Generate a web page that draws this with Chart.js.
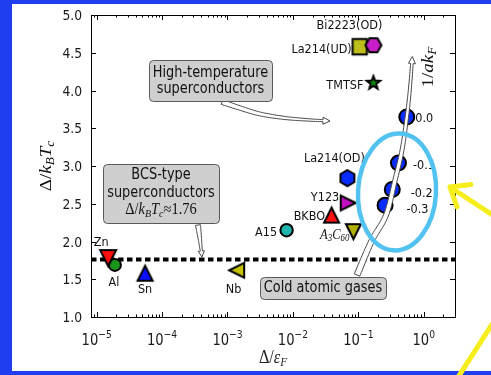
<!DOCTYPE html>
<html>
<head>
<meta charset="utf-8">
<script src="https://cdn.jsdelivr.net/npm/chart.js@4.4.0/dist/chart.umd.min.js"></script>
<style>
  html, body { margin: 0; padding: 0; background: #1f3ef0; }
  canvas { display: block; }
</style>
</head>
<body>
<canvas id="gapChart" width="491" height="375"></canvas>
<script>
// gap ratios of known superconductors: Delta/E_F (x) against Delta/kTc (y)
const materials = ['Al', 'Zn', 'Sn', 'Nb', 'A15', 'BKBO', 'Y123', 'A3C60', 'La214(OD)', 'TMTSF', 'La214(UD)', 'Bi2223(OD)'];
const gapOverEf = [1.9e-5, 1.5e-5, 5.5e-5, 1.38e-3, 8.0e-3, 0.039, 0.070, 0.084, 0.068, 0.17, 0.105, 0.17];
const gapOverTc = [1.69, 1.78, 1.58, 1.62, 2.15, 2.35, 2.51, 2.13, 2.84, 4.10, 4.58, 4.60];

// cold atomic gases, labelled by 1/ak_F
const coldLabels = ['0.0', '-0.1', '-0.2', '-0.3'];
const coldGapOverEf = [0.55, 0.41, 0.33, 0.256];
const coldGapOverTc = [3.65, 3.04, 2.69, 2.48];

// weak-coupling BCS value
const bcsRatio = 1.76;

const xRange = [8.2e-6, 3.0];
const yRange = [1.0, 5.0];
const yTicks = [1.0, 1.5, 2.0, 2.5, 3.0, 3.5, 4.0, 4.5, 5.0];
const yTickLabels = ['1.0', '1.5', '2.0', '2.5', '3.0', '3.5', '4.0', '4.5', '5.0'];
const xDecades = [-5, -4, -3, -2, -1, 0];

// annotation arrows, in data units
const akfArrowX = [0.0955, 0.160, 0.265, 0.363, 0.465, 0.551, 0.612, 0.670];
const akfArrowY = [1.556, 2.01, 2.35, 2.81, 3.21, 3.65, 4.01, 4.45];
const htscArrowX = [8.24e-4, 1.55e-3, 3.14e-3, 7.57e-3, 0.0182, 0.0369];
const htscArrowY = [3.848, 3.768, 3.689, 3.636, 3.609, 3.596];
const bcsArrowX = [3.54e-4, 3.80e-4, 4.07e-4];
const bcsArrowY = [2.218, 2.02, 1.795];

// marker looks
const markerShape = ['circle', 'tri-down', 'tri-up', 'tri-left', 'circle', 'tri-up', 'tri-right', 'tri-down', 'hex-v', 'star', 'square', 'hex-h'];
const markerColor = ['#1a961a', '#ff1010', '#0a10ff', '#c4c400', '#22b5ad', '#ff1010', '#c010c0', '#b0b000', '#0a2cff', '#0a8a0a', '#bdbd1c', '#c81ec8'];
const markerSize = [6, 8, 7.5, 7.5, 6.2, 7.5, 7.5, 7.5, 8, 7, 7.5, 8];

// label placement relative to marker (px)
const labelDx = [-1, -7, 0, -3, -9.5, -6.5, -9, -4, -13, -10, -8, -24];
const labelDy = [18, -15, 17, 20, 3, 2, -5.5, 3.5, -19, 3, 3, -19];
const labelAlign = ['center', 'center', 'center', 'center', 'right', 'right', 'right', 'right', 'center', 'right', 'right', 'center'];
const coldLabelDx = [8.5, 14.5, 18.5, 21.5];
const coldLabelDy = [1.5, 2.7, 4, 4.3];

function makeMarker(shape, color, r) {
  if (shape === 'circle') return 'circle';
  const s = Math.ceil(2 * r + 6);
  const c = document.createElement('canvas');
  c.width = s; c.height = s;
  const g = c.getContext('2d');
  const cx = s / 2, cy = s / 2;
  let pts = [];
  if (shape.startsWith('tri')) {
    const ang = {'tri-up': 0, 'tri-right': 90, 'tri-down': 180, 'tri-left': 270}[shape] * Math.PI / 180;
    pts = [[0, -r], [-r, r], [r, r]].map(([x, y]) => [
      x * Math.cos(ang) - y * Math.sin(ang), x * Math.sin(ang) + y * Math.cos(ang)]);
  } else if (shape.startsWith('hex')) {
    const off = shape === 'hex-v' ? -Math.PI / 2 : 0;
    for (let k = 0; k < 6; k++) {
      const a = off + k * Math.PI / 3;
      pts.push([r * Math.cos(a), r * Math.sin(a)]);
    }
  } else if (shape === 'star') {
    for (let k = 0; k < 10; k++) {
      const a = -Math.PI / 2 + k * Math.PI / 5;
      const rr = k % 2 ? r * 0.42 : r;
      pts.push([rr * Math.cos(a), rr * Math.sin(a)]);
    }
  } else if (shape === 'square') {
    const h = r * 0.95;
    pts = [[-h, -h * 1.1], [h, -h * 1.1], [h, h * 1.1], [-h, h * 1.1]];
  }
  g.beginPath();
  pts.forEach(([x, y], i) => i ? g.lineTo(cx + x, cy + y) : g.moveTo(cx + x, cy + y));
  g.closePath();
  g.fillStyle = color;
  g.fill();
  g.lineJoin = 'miter';
  g.lineWidth = 2;
  g.strokeStyle = '#000';
  g.stroke();
  return c;
}

function smoothPath(pts, steps) {
  const out = [];
  for (let i = 0; i < pts.length - 1; i++) {
    const p0 = pts[Math.max(i - 1, 0)], p1 = pts[i], p2 = pts[i + 1], p3 = pts[Math.min(i + 2, pts.length - 1)];
    for (let k = 0; k < steps; k++) {
      const t = k / steps, t2 = t * t, t3 = t2 * t;
      const f = (a, b, c, d) => 0.5 * (2 * b + (-a + c) * t + (2 * a - 5 * b + 4 * c - d) * t2 + (-a + 3 * b - 3 * c + d) * t3);
      out.push({x: f(p0.x, p1.x, p2.x, p3.x), y: f(p0.y, p1.y, p2.y, p3.y)});
    }
  }
  out.push(pts[pts.length - 1]);
  return out;
}

// tapered white arrow with grey edge, like matplotlib's "simple" arrowstyle
function fancyArrow(ctx, pts, w0, w1, headLen, headW) {
  const path = smoothPath(pts, 12);
  const s = [0];
  for (let i = 1; i < path.length; i++) {
    s.push(s[i - 1] + Math.hypot(path[i].x - path[i - 1].x, path[i].y - path[i - 1].y));
  }
  const bodyLen = s[s.length - 1] - headLen;
  const body = [];
  for (let i = 0; i < path.length; i++) {
    if (s[i] >= bodyLen) {
      const t = (bodyLen - s[i - 1]) / (s[i] - s[i - 1]);
      body.push({x: path[i - 1].x + t * (path[i].x - path[i - 1].x), y: path[i - 1].y + t * (path[i].y - path[i - 1].y), s: bodyLen});
      break;
    }
    body.push({x: path[i].x, y: path[i].y, s: s[i]});
  }
  const tip = path[path.length - 1];
  const left = [], right = [];
  body.forEach((p, i) => {
    const a = body[Math.max(i - 1, 0)], b = body[Math.min(i + 1, body.length - 1)];
    let tx = b.x - a.x, ty = b.y - a.y;
    const l = Math.hypot(tx, ty) || 1;
    tx /= l; ty /= l;
    const w = (w0 + (w1 - w0) * p.s / bodyLen) / 2;
    left.push({x: p.x - ty * w, y: p.y + tx * w});
    right.push({x: p.x + ty * w, y: p.y - tx * w});
  });
  const base = body[body.length - 1];
  let hx = tip.x - base.x, hy = tip.y - base.y;
  const hl = Math.hypot(hx, hy) || 1;
  hx /= hl; hy /= hl;
  ctx.beginPath();
  left.forEach((p, i) => i ? ctx.lineTo(p.x, p.y) : ctx.moveTo(p.x, p.y));
  ctx.lineTo(base.x - hy * headW / 2, base.y + hx * headW / 2);
  ctx.lineTo(tip.x, tip.y);
  ctx.lineTo(base.x + hy * headW / 2, base.y - hx * headW / 2);
  for (let i = right.length - 1; i >= 0; i--) ctx.lineTo(right[i].x, right[i].y);
  ctx.closePath();
  ctx.fillStyle = '#ffffff';
  ctx.fill();
  ctx.lineWidth = 1;
  ctx.strokeStyle = '#4a4a4a';
  ctx.stroke();
}

// text runs: {t, it, sub, sup, fam}; drawn with a slight horizontal squeeze
function drawText(ctx, runs, x, y, o) {
  if (typeof runs === 'string') runs = [{t: runs}];
  const size = o.size || 13, fam = o.family || '"DejaVu Sans"';
  const fontFor = r => (r.it ? 'italic ' : '') + ((r.sub || r.sup) ? size * 0.7 : size) + 'px ' + (r.fam || fam);
  ctx.save();
  ctx.translate(x, y);
  if (o.rot) ctx.rotate(o.rot);
  if (o.rot) ctx.scale(1, o.sq || 0.88); else ctx.scale(o.sq || 0.88, 1);
  ctx.fillStyle = o.color || '#111';
  ctx.textBaseline = o.baseline || 'middle';
  ctx.textAlign = 'left';
  let w = 0;
  runs.forEach(r => { ctx.font = fontFor(r); r.w = ctx.measureText(r.t).width; w += r.w; });
  let cx = o.align === 'center' ? -w / 2 : o.align === 'right' ? -w : 0;
  runs.forEach(r => {
    ctx.font = fontFor(r);
    const dy = r.sub ? size * 0.25 : r.sup ? -size * 0.45 : 0;
    ctx.fillText(r.t, cx, dy);
    cx += r.w;
  });
  ctx.restore();
}

function roundBox(ctx, x, y, w, h) {
  ctx.beginPath();
  ctx.roundRect(x + 0.5, y + 0.5, w, h, 4);
  ctx.fillStyle = '#cfcfcf';
  ctx.fill();
  ctx.lineWidth = 1;
  ctx.strokeStyle = '#5a5a5a';
  ctx.stroke();
}

const serif = '"Liberation Serif"';

const decor = {
  id: 'decor',
  beforeDraw(chart) {
    const ctx = chart.ctx;
    ctx.save();
    ctx.fillStyle = '#1f3ef0';
    ctx.fillRect(0, 0, chart.width, chart.height);
    ctx.fillStyle = '#ffffff';
    ctx.fillRect(12, 4, chart.width - 12, 367);
    ctx.restore();
  },
  afterDatasetsDraw(chart) {
    const ctx = chart.ctx, sx = chart.scales.x, sy = chart.scales.y, a = chart.chartArea;
    const px = (xs, ys) => xs.map((v, i) => ({x: sx.getPixelForValue(v), y: sy.getPixelForValue(ys[i])}));
    ctx.save();

    fancyArrow(ctx, px(htscArrowX, htscArrowY), 5, 2, 7, 7);
    fancyArrow(ctx, px(bcsArrowX, bcsArrowY), 5, 2, 6, 6);
    fancyArrow(ctx, px(akfArrowX, akfArrowY), 6, 2.5, 7, 7);

    // annotation boxes
    roundBox(ctx, 149, 60, 123, 41);
    drawText(ctx, 'High-temperature', 210.5, 73, {size: 15, align: 'center', sq: 0.86});
    drawText(ctx, 'superconductors', 210.5, 89, {size: 15, align: 'center', sq: 0.86});

    roundBox(ctx, 103, 164, 116, 59);
    drawText(ctx, 'BCS-type', 161, 175, {size: 15, align: 'center', sq: 0.86});
    drawText(ctx, 'superconductors', 161, 193, {size: 15, align: 'center', sq: 0.86});
    drawText(ctx, [{t: 'Δ', fam: serif}, {t: '/', fam: serif}, {t: 'k', it: true, fam: serif}, {t: 'B', it: true, sub: true, fam: serif},
      {t: 'T', it: true, fam: serif}, {t: 'c', it: true, sub: true, fam: serif}, {t: '≈1.76', fam: serif}],
      161, 210, {size: 16, align: 'center', sq: 0.9});

    roundBox(ctx, 260, 277, 126, 22);
    drawText(ctx, 'Cold atomic gases', 323, 288.5, {size: 15, align: 'center', sq: 0.86});

    // point labels
    materials.forEach((m, i) => {
      const x = sx.getPixelForValue(gapOverEf[i]) + labelDx[i];
      const y = sy.getPixelForValue(gapOverTc[i]) + labelDy[i];
      if (m === 'A3C60') {
        drawText(ctx, [{t: 'A', it: true, fam: serif}, {t: '3', sub: true, it: true, fam: serif},
          {t: 'C', it: true, fam: serif}, {t: '60', sub: true, it: true, fam: serif}], x, y, {size: 14, align: 'right', sq: 0.9});
      } else {
        drawText(ctx, m, x, y, {size: 12.5, align: labelAlign[i], sq: 0.9});
      }
    });
    coldLabels.forEach((t, i) => {
      const x = sx.getPixelForValue(coldGapOverEf[i]) + coldLabelDx[i];
      const y = sy.getPixelForValue(coldGapOverTc[i]) + coldLabelDy[i];
      drawText(ctx, t, x, y, {size: 12.5, align: 'left', sq: 0.9});
    });

    // frame and inward ticks
    ctx.strokeStyle = '#000';
    ctx.lineWidth = 1;
    ctx.strokeRect(a.left + 0.5, a.top + 0.5, a.right - a.left, a.bottom - a.top);
    ctx.beginPath();
    yTicks.forEach(v => {
      const y = Math.round(sy.getPixelForValue(v)) + 0.5;
      ctx.moveTo(a.left, y); ctx.lineTo(a.left + 5, y);
      ctx.moveTo(a.right, y); ctx.lineTo(a.right - 5, y);
    });
    for (let d = -6; d <= 0; d++) {
      for (let k = 1; k <= 9; k++) {
        const v = k * Math.pow(10, d);
        if (v < xRange[0] || v > xRange[1]) continue;
        const x = Math.round(sx.getPixelForValue(v)) + 0.5;
        const len = k === 1 ? 5 : 2.5;
        ctx.moveTo(x, a.bottom); ctx.lineTo(x, a.bottom - len);
        ctx.moveTo(x, a.top); ctx.lineTo(x, a.top + len);
      }
    }
    ctx.stroke();

    // tick labels
    yTicks.forEach((v, i) => {
      drawText(ctx, yTickLabels[i], 82, sy.getPixelForValue(v) + 1.5, {size: 14, align: 'right', sq: 0.88, color: '#1a1a1a'});
    });
    xDecades.forEach(d => {
      drawText(ctx, [{t: '10'}, {t: String(d).replace('-', '\u2212'), sup: true}], sx.getPixelForValue(Math.pow(10, d)),
        345, {size: 16, align: 'center', sq: 0.82, baseline: 'alphabetic', color: '#1a1a1a'});
    });

    // axis titles
    drawText(ctx, [{t: 'Δ'}, {t: '/'}, {t: 'k', it: true}, {t: 'B', it: true, sub: true}, {t: 'T', it: true}, {t: 'c', it: true, sub: true}],
      47, 166, {size: 19, align: 'center', rot: -Math.PI / 2, sq: 0.88, family: serif});
    drawText(ctx, [{t: '1'}, {t: '/'}, {t: 'a', it: true}, {t: 'k', it: true}, {t: 'F', it: true, sub: true}],
      429, 67, {size: 19, align: 'center', rot: -Math.PI / 2, sq: 0.88, family: serif});
    drawText(ctx, [{t: 'Δ'}, {t: '/'}, {t: 'ε', it: true}, {t: 'F', it: true, sub: true}],
      273, 358, {size: 18, align: 'center', sq: 0.9, family: serif, color: '#222'});

    // highlight ring around the cold-gas points
    ctx.beginPath();
    ctx.ellipse(sx.getPixelForValue(0.39), sy.getPixelForValue(2.656), 39, 58.5, 0.06, 0, Math.PI * 2);
    ctx.lineWidth = 4.5;
    ctx.strokeStyle = '#52c3f0';
    ctx.stroke();

    // yellow pointers
    ctx.strokeStyle = '#f6ee1c';
    ctx.lineWidth = 5;
    ctx.lineCap = 'round';
    ctx.lineJoin = 'round';
    ctx.beginPath();
    ctx.moveTo(500, 220); ctx.lineTo(450, 187);
    ctx.moveTo(471, 184.5); ctx.lineTo(450, 187); ctx.lineTo(457, 207);
    ctx.moveTo(496, 318); ctx.lineTo(455, 382);
    ctx.stroke();
    ctx.restore();
  }
};

new Chart(document.getElementById('gapChart'), {
  type: 'scatter',
  data: {
    datasets: [
      {
        label: 'cold atomic gases',
        data: coldGapOverEf.map((x, i) => ({x: x, y: coldGapOverTc[i]})),
        pointStyle: 'circle',
        pointRadius: 7.5,
        pointBackgroundColor: '#0a2cff',
        pointBorderColor: '#000',
        pointBorderWidth: 2,
        order: 1
      },
      {
        label: 'superconductors',
        data: gapOverEf.map((x, i) => ({x: x, y: gapOverTc[i]})),
        pointStyle: markerShape.map((s, i) => makeMarker(s, markerColor[i], markerSize[i])),
        pointRadius: markerSize,
        pointBackgroundColor: markerColor,
        pointBorderColor: '#000',
        pointBorderWidth: 2,
        order: 2
      },
      {
        label: 'BCS',
        data: [{x: xRange[0], y: bcsRatio}, {x: xRange[1], y: bcsRatio}],
        showLine: true,
        borderColor: '#000',
        borderWidth: 4,
        borderDash: [5.5, 3.5],
        pointRadius: 0,
        order: 3
      }
    ]
  },
  options: {
    responsive: false,
    animation: false,
    devicePixelRatio: 1,
    events: [],
    layout: { padding: { left: 91, right: 36, top: 15, bottom: 58 } },
    plugins: { legend: { display: false }, tooltip: { enabled: false } },
    scales: {
      x: { type: 'logarithmic', min: xRange[0], max: xRange[1], display: false },
      y: { type: 'linear', min: yRange[0], max: yRange[1], display: false }
    }
  },
  plugins: [decor]
});
</script>
</body>
</html>
